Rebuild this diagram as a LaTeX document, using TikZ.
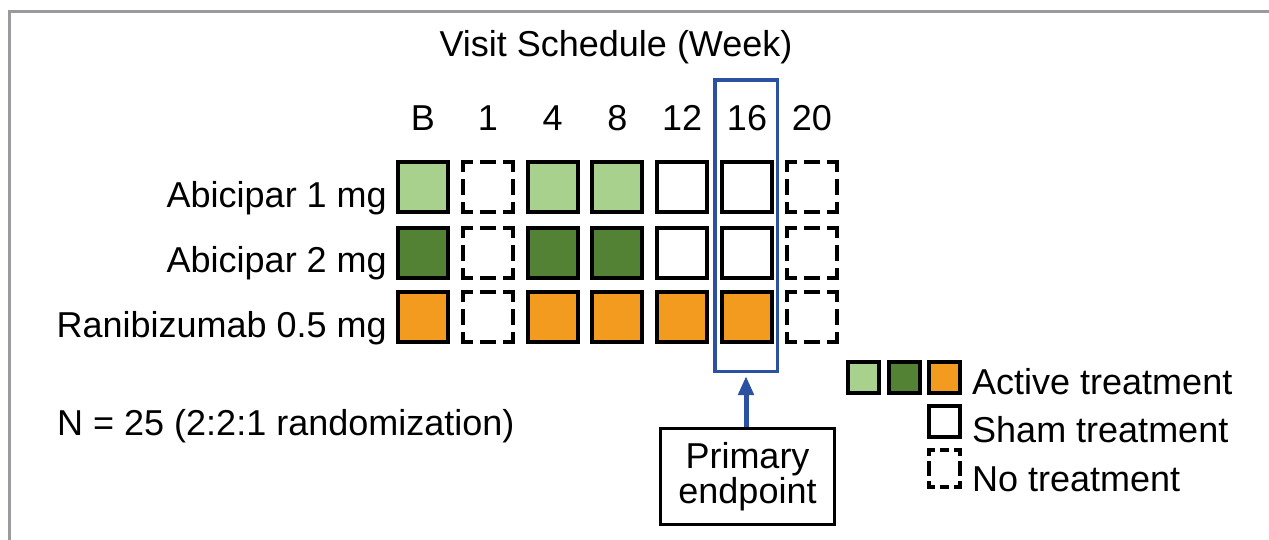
\documentclass[tikz,border=0pt]{standalone}
\usepackage{fontspec}
\setmainfont{Liberation Sans}
\usetikzlibrary{arrows.meta}
\definecolor{lgreen}{HTML}{A9D18E}
\definecolor{dgreen}{HTML}{548235}
\definecolor{orng}{HTML}{F39B1F}
\definecolor{epblue}{HTML}{2B52A1}
\definecolor{framegray}{HTML}{9A9A9E}
\tikzset{
  txt/.style={font=\fontsize{36}{33}\selectfont, inner sep=0pt},
  cell/.style={rectangle, minimum size=50pt, inner sep=0pt, line width=4pt, draw=black},
  lg/.style={fill=lgreen},
  dg/.style={fill=dgreen},
  og/.style={fill=orng},
  sham/.style={fill=white},
  notx/.style={fill=white, dash pattern=on 16pt off 11pt on 12pt off 11pt, dash phase=8pt, line cap=rect},
  legsq/.style={rectangle, minimum size=31pt, inner sep=0pt, line width=4pt, draw=black},
  epbox/.style={rectangle, draw=epblue, line width=3.5pt, minimum width=62.5pt, minimum height=291.5pt, inner sep=0pt},
  primbox/.style={rectangle, draw=black, line width=3pt, minimum width=174pt, minimum height=96pt, align=center, font=\fontsize{36}{33}\selectfont},
  eparrow/.style={draw=epblue, line width=5pt, -{Triangle[width=15pt,length=19pt]}, shorten >=3pt}
}
\begin{document}
\begin{tikzpicture}[x=1pt, y=-1pt]
\useasboundingbox (0,0) rectangle (1269,539);
% frame
\draw[framegray, line width=3pt] (9.5,545) -- (9.5,11.5) -- (1275,11.5);
% title
\node[txt, anchor=base] (title) at (616,56) {Visit Schedule (Week)};
% column labels
\foreach \t [count=\i from 0] in {B,1,4,8,12,16,20}
  \node[txt, anchor=base] (col\i) at ({423+64.8*\i},130) {\t};
% row labels
\node[txt, anchor=base east] (r1) at (387,207) {Abicipar 1 mg};
\node[txt, anchor=base east] (r2) at (387,272) {Abicipar 2 mg};
\node[txt, anchor=base east] (r3) at (387,337) {Ranibizumab 0.5 mg};
% cells
\foreach \s [count=\i from 0] in {lg,notx,lg,lg,sham,sham,notx}
  \node[cell,\s] (a\i) at ({423+64.8*\i},186.5) {};
\foreach \s [count=\i from 0] in {dg,notx,dg,dg,sham,sham,notx}
  \node[cell,\s] (b\i) at ({423+64.8*\i},252.5) {};
\foreach \s [count=\i from 0] in {og,notx,og,og,og,og,notx}
  \node[cell,\s] (c\i) at ({423+64.8*\i},316.5) {};
% endpoint box
\node[epbox] (ep) at (746,225.5) {};
% N text
\node[txt, anchor=base west] (ntext) at (57,435) {N = 25 (2:2:1 randomization)};
% primary endpoint
\node[primbox] (prim) at (747.5,476.5) {Primary\\endpoint};
\draw[eparrow] (prim.north -| ep.south) -- (ep.south);
% legend
\node[legsq, fill=lgreen] (l1) at (863.5,377.5) {};
\node[legsq, fill=dgreen] (l2) at (904.5,377.5) {};
\node[legsq, fill=orng] (l3) at (944.5,377.5) {};
\node[legsq, fill=white] (l4) at (944.5,421) {};
\node[rectangle, minimum width=31pt, minimum height=37pt, inner sep=0pt] (l5) at (944.5,468.5) {};
\draw[line width=4pt, line cap=rect, dash pattern=on 4pt off 9pt on 5pt off 9pt on 4pt off 40pt]
  (l5.north west) -- (l5.north east) (l5.south west) -- (l5.south east);
\draw[line width=4pt, line cap=rect, dash pattern=on 4pt off 9pt on 11pt off 9pt on 4pt off 40pt]
  (l5.north west) -- (l5.south west) (l5.north east) -- (l5.south east);
\node[txt, anchor=base west] (t1) at (972,394) {Active treatment};
\node[txt, anchor=base west] (t2) at (972,442) {Sham treatment};
\node[txt, anchor=base west] (t3) at (972,491) {No treatment};
\end{tikzpicture}
\end{document}
